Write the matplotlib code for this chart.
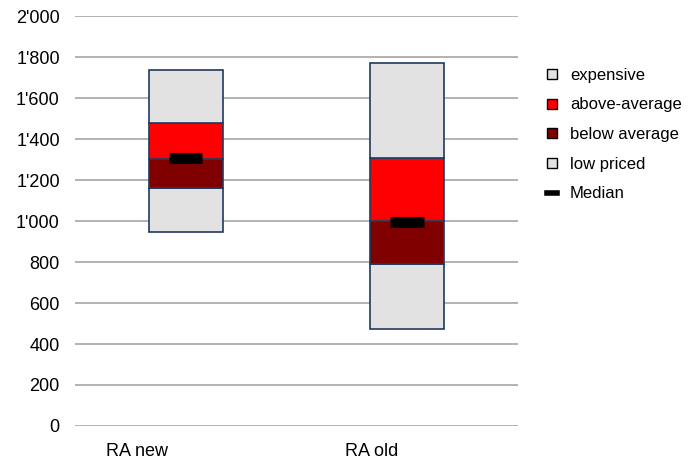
import numpy as np
import matplotlib
matplotlib.use('Agg')
import matplotlib.pyplot as plt
from matplotlib.patches import Patch
from matplotlib.lines import Line2D
from matplotlib.ticker import FuncFormatter

plt.rcParams['font.family'] = ['Liberation Sans', 'DejaVu Sans']

categories = ['RA new', 'RA old']
low_start = [948, 472]       # bottom of the "low priced" band
low_top = [1162, 789]
below_top = [1305, 1000]
above_top = [1480, 1309]
expensive_top = [1737, 1774]
median = [1307, 997]

edge = '#1f3a60'
colors = {'low priced': '#e2e2e2', 'below average': '#800000',
          'above-average': '#ff0000', 'expensive': '#e2e2e2'}

fig = plt.figure(figsize=(6.95, 4.63), dpi=100)
ax = fig.add_axes([0.108, 0.08, 0.637, 0.885])

x = np.arange(len(categories))
w = 0.334
bands = [('low priced', low_start, low_top),
         ('below average', low_top, below_top),
         ('above-average', below_top, above_top),
         ('expensive', above_top, expensive_top)]
for name, lo, hi in bands:
    lo = np.array(lo); hi = np.array(hi)
    ax.bar(x, hi - lo, bottom=lo, width=w, color=colors[name],
           edgecolor=edge, linewidth=1.2, zorder=3)

# median markers
for xi, m in zip(x, median):
    ax.plot([xi - 0.075, xi + 0.075], [m, m], color='black', lw=8,
            solid_capstyle='butt', zorder=4)

ax.set_xlim(-0.5, 1.5)
ax.set_ylim(0, 2000)
ax.set_yticks(range(0, 2001, 200))
ax.yaxis.set_major_formatter(FuncFormatter(lambda v, p: f'{int(v):,}'.replace(',', "'")))
# category labels sit left of the bar centres
ax.set_xticks(x + np.array([-0.22, -0.16]))
ax.set_xticklabels(categories)
ax.tick_params(axis='both', length=0, labelsize=13)
ax.tick_params(axis='y', pad=11)
ax.tick_params(axis='x', pad=12)
ax.grid(axis='y', color='#a6a6a6', lw=1.2, zorder=0)
for s in ax.spines.values():
    s.set_visible(False)

handles = [Patch(facecolor=colors['expensive'], edgecolor='black', lw=1, label='expensive'),
           Patch(facecolor=colors['above-average'], edgecolor='black', lw=1, label='above-average'),
           Patch(facecolor=colors['below average'], edgecolor='black', lw=1, label='below average'),
           Patch(facecolor=colors['low priced'], edgecolor='black', lw=1, label='low priced'),
           Line2D([0], [0], color='black', lw=4, label='Median')]
leg = fig.legend(handles=handles, loc='upper left', bbox_to_anchor=(0.766, 0.886),
                 frameon=False, fontsize=12, handlelength=0.55, handleheight=0.55,
                 handletextpad=0.8, labelspacing=0.88)

plt.savefig('out.png')
